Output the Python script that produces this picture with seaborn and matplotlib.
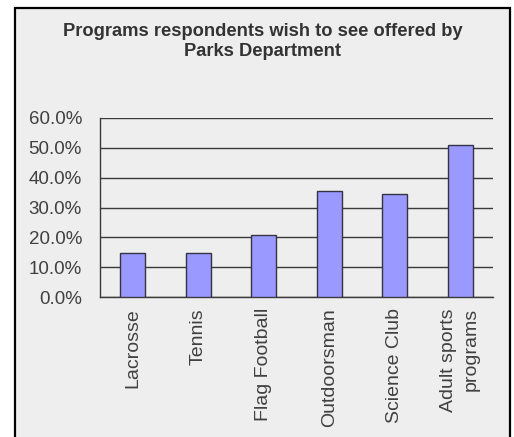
import matplotlib
matplotlib.use("Agg")
import matplotlib.pyplot as plt
from matplotlib.patches import Rectangle
from matplotlib.ticker import PercentFormatter
import numpy as np
import pandas as pd
import seaborn as sns

# Share of respondents wanting each program
programs = ["Lacrosse", "Tennis", "Flag Football", "Outdoorsman",
            "Science Club", "Adult sports\nprograms"]
shares = [0.148, 0.149, 0.209, 0.356, 0.345, 0.510]
y_ticks = [0.0, 0.1, 0.2, 0.3, 0.4, 0.5, 0.6]
title = "Programs respondents wish to see offered by\nParks Department"

sns.set_style("white")
plt.rcParams["font.family"] = ["Liberation Sans", "DejaVu Sans"]

W, H = 514, 437
fig = plt.figure(figsize=(W / 100, H / 100), dpi=100)
fig.patch.set_facecolor("white")

# Framed panel behind the chart
panel = Rectangle((15 / W, -0.05), (510 - 15) / W, 1.05 - 8 / H,
                  transform=fig.transFigure, facecolor="#EEEEEE",
                  edgecolor="black", linewidth=1.6, zorder=-5)
fig.patches.append(panel)

ax = fig.add_axes([100 / W, 1 - 297 / H, (493 - 100) / W, (297 - 118) / H])
ax.set_facecolor("none")
ax.set_zorder(1)

df = pd.DataFrame({"program": programs, "share": shares})
sns.barplot(data=df, x="program", y="share", color="#9999FF",
            saturation=1, width=0.38, edgecolor="#333344", linewidth=1,
            ax=ax, zorder=3)

ax.set_xlim(-0.5, len(programs) - 0.5)
ax.set_ylim(0, 0.6)
ax.set_yticks(y_ticks)
ax.yaxis.set_major_formatter(PercentFormatter(1.0, decimals=1))
ax.set_xlabel("")
ax.set_ylabel("")

ax.yaxis.grid(True, color="#3a3a3a", linewidth=1)
ax.set_axisbelow(True)

for side in ("top", "right"):
    ax.spines[side].set_visible(False)
for side in ("left", "bottom"):
    ax.spines[side].set_color("#3a3a3a")
    ax.spines[side].set_linewidth(1)

ax.tick_params(axis="y", direction="out", length=6, width=1,
               color="#3a3a3a", pad=7, labelsize=13.5, labelcolor="#404040")
ax.tick_params(axis="x", which="major", length=0, pad=8,
               labelsize=14, labelcolor="#404040")
ax.set_xticks(np.arange(-0.5, len(programs), 1), minor=True)
ax.tick_params(axis="x", which="minor", direction="out", length=6,
               width=1, color="#3a3a3a")
for lab in ax.get_xticklabels():
    lab.set_rotation(90)
    lab.set_ha("center")
    lab.set_va("top")
    lab.set_multialignment("right")
    lab.set_linespacing(1.45)

fig.text(263 / W, 1 - 23 / H, title, ha="center", va="top",
         fontsize=13.2, fontweight="bold", color="#333333",
         linespacing=1.2, zorder=2)

fig.savefig("out.png", dpi=100)
